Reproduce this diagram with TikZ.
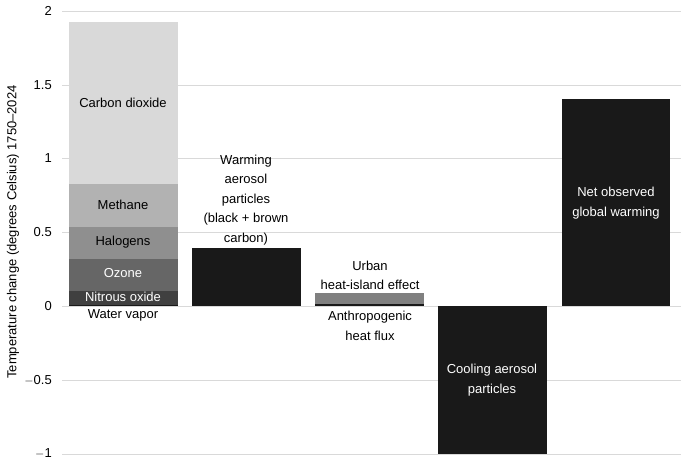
\documentclass[tikz,border=0pt]{standalone}
\usepackage{fontspec}
\setmainfont{Liberation Sans}
\begin{document}
\begin{tikzpicture}[x=1pt,y=-1pt,
  lbl/.style={font=\fontsize{13}{19.5}\selectfont,align=center,inner sep=0pt},
  tick/.style={font=\fontsize{13}{15}\selectfont,anchor=east,inner sep=0pt},
  grid/.style={draw=black!15,line width=0.8pt}]
\useasboundingbox (0,0) rectangle (681,467);
\foreach \y/\t in {11/2,85/1.5,158/1,232/0.5,306/0,380/$-$0.5,454/$-$1}{
  \draw[grid] (62,\y) -- (681,\y);
  \node[tick] at (52,\y) {\t};
}
% bar 1
\fill[black!15] (69,22) rectangle (178,184);
\fill[black!30] (69,184) rectangle (178,227);
\fill[black!44] (69,227) rectangle (178,259);
\fill[black!60] (69,259) rectangle (178,291);
\fill[black!75] (69,291) rectangle (178,305);
\fill[black!90] (69,305) rectangle (178,306);
\node[lbl] (co2) at (123,103) {Carbon dioxide};
\node[lbl] (ch4) at (123,205) {Methane};
\node[lbl] (hal) at (123,242) {Halogens};
\node[lbl,text=white] (o3) at (123,273) {Ozone};
\node[lbl,text=white] (n2o) at (123,297) {Nitrous oxide};
\node[lbl] (wv) at (123,315) {Water vapor};
% bar 2
\fill[black!90] (192,248) rectangle (301,306);
\node[lbl,anchor=south] (warm) at (246,245) {Warming\\aerosol\\particles\\(black + brown\\carbon)};
% bar 3
\fill[black!50] (315,293) rectangle (424,304);
\fill[black!90] (315,304) rectangle (424,306);
\node[lbl,anchor=south] (urb) at (370,290) {Urban\\heat-island effect};
\node[lbl,anchor=north] (anth) at (370,311) {Anthropogenic\\heat flux};
% bar 4
\fill[black!90] (438,306) rectangle (547,454);
\node[lbl,text=white] (cool) at (492,380) {Cooling aerosol\\particles};
% bar 5
\fill[black!90] (562,99) rectangle (670,306);
\node[lbl,text=white] (net) at (616,203) {Net observed\\global warming};
\node[lbl,rotate=90] (ylab) at (13,232) {Temperature change (degrees Celsius) 1750--2024};
\end{tikzpicture}
\end{document}
